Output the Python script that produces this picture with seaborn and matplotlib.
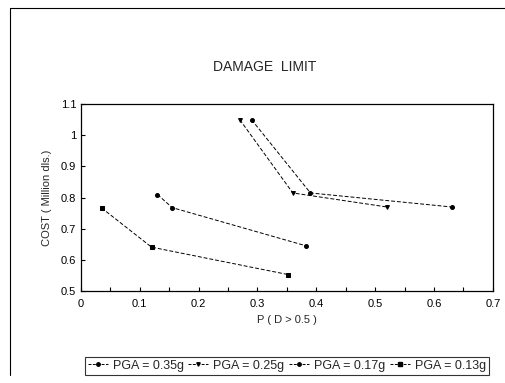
import matplotlib
matplotlib.use("Agg")
import matplotlib.pyplot as plt
import seaborn as sns
import pandas as pd
from matplotlib.lines import Line2D

series = ["PGA = 0.35g", "PGA = 0.25g", "PGA = 0.17g", "PGA = 0.13g"]
x_035 = [0.29, 0.39, 0.63]
y_035 = [1.05, 0.815, 0.77]
x_025 = [0.27, 0.36, 0.52]
y_025 = [1.05, 0.815, 0.77]
x_017 = [0.13, 0.155, 0.383]
y_017 = [0.81, 0.768, 0.645]
x_013 = [0.035, 0.12, 0.352]
y_013 = [0.767, 0.641, 0.553]

xs = [x_035, x_025, x_017, x_013]
ys = [y_035, y_025, y_017, y_013]
rows = []
for s, xx, yy in zip(series, xs, ys):
    for a, b in zip(xx, yy):
        rows.append({"P": a, "COST": b, "series": s})
df = pd.DataFrame(rows)

sns.set_style("white")
plt.rcParams['font.family'] = ['Liberation Sans', 'DejaVu Sans']

fig = plt.figure(figsize=(5.06, 3.83), dpi=100)
ax = fig.add_axes([0.160, 0.240, 0.814, 0.488])

markers = {"PGA = 0.35g": "o", "PGA = 0.25g": "v", "PGA = 0.17g": "o", "PGA = 0.13g": "s"}
dashes = {s: (4, 2) for s in series}
sns.lineplot(data=df, x="P", y="COST", hue="series", style="series",
             palette=["black"] * 4, markers=markers, dashes=dashes,
             sort=False, markersize=2.8, linewidth=0.7, ax=ax, legend=False,
             markeredgecolor="black")

ax.set_xlim(0, 0.7)
ax.set_ylim(0.5, 1.1)
ax.set_xticks([0, 0.1, 0.2, 0.3, 0.4, 0.5, 0.6, 0.7])
ax.set_xticklabels(["0", "0.1", "0.2", "0.3", "0.4", "0.5", "0.6", "0.7"])
ax.set_yticks([0.5, 0.6, 0.7, 0.8, 0.9, 1.0, 1.1])
ax.set_yticklabels(["0.5", "0.6", "0.7", "0.8", "0.9", "1", "1.1"])
ax.set_xticks([0.05, 0.15, 0.25, 0.35, 0.45, 0.55, 0.65], minor=True)
ax.tick_params(axis="both", which="both", direction="in", length=3, width=0.8,
               labelsize=8, colors="black", bottom=True, left=True)
ax.tick_params(axis="x", pad=6)
for sp in ax.spines.values():
    sp.set_color("black")
    sp.set_linewidth(0.9)
ax.set_xlabel("P ( D > 0.5 )", fontsize=8, labelpad=4)
ax.set_ylabel("COST ( Million dls.)", fontsize=8, labelpad=6)

fig.text(0.524, 0.825, "DAMAGE  LIMIT", ha="center", va="center", fontsize=10)

handles = [Line2D([], [], color="black", linestyle=(0, (3, 1.5)), linewidth=0.7,
                  marker=markers[s], markersize=2.5) for s in series]
leg = fig.legend(handles, series, loc="center", bbox_to_anchor=(0.567, 0.045),
                 ncol=4, fontsize=9, frameon=True, fancybox=False,
                 handlelength=1.6, handletextpad=0.4, columnspacing=0.35,
                 borderpad=0.25)
leg.get_frame().set_edgecolor("black")
leg.get_frame().set_linewidth(0.8)

# outer frame lines
fig.add_artist(Line2D([0.02, 0.02], [0.02, 0.98], color="black", linewidth=0.8,
                      transform=fig.transFigure))
fig.add_artist(Line2D([0.02, 1.0], [0.98, 0.98], color="black", linewidth=0.8,
                      transform=fig.transFigure))

fig.savefig("out.png", dpi=100)
